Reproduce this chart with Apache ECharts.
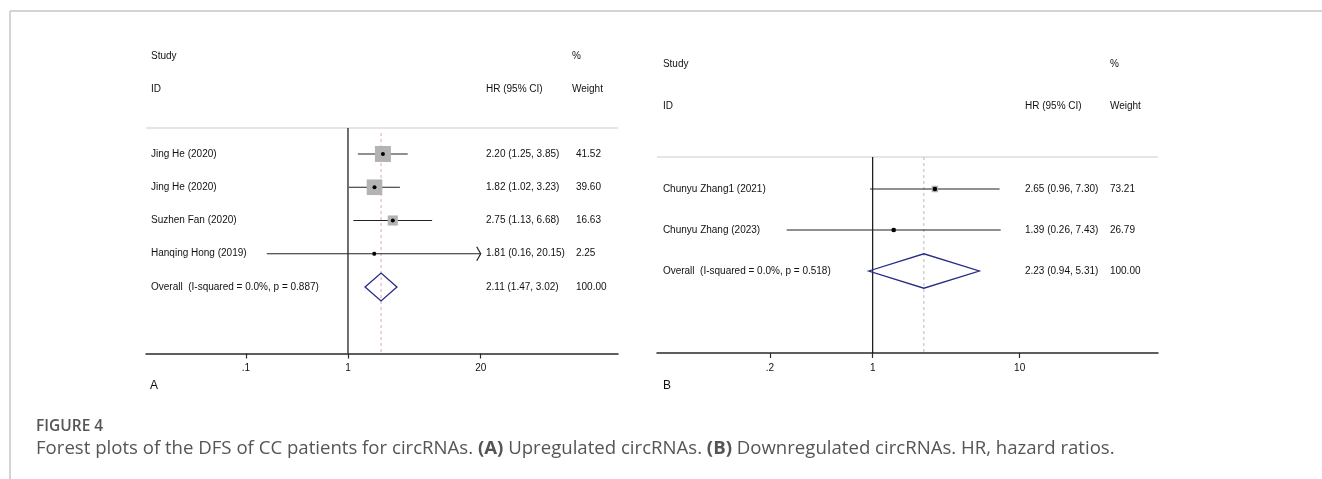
<!DOCTYPE html>
<html><head><meta charset="utf-8">
<script src="https://cdn.jsdelivr.net/npm/echarts@6/dist/echarts.min.js"></script>
<style>html,body{margin:0;padding:0;background:#fff}#c{width:1322px;height:479px}</style>
</head><body><div id="c"></div>
<script>
// ---------------- Data ----------------
const studiesA = ["Jing He (2020)", "Jing He (2020)", "Suzhen Fan (2020)", "Hanqing Hong (2019)"];
const hrA = [2.20, 1.82, 2.75, 1.81];
const lowA = [1.25, 1.02, 1.13, 0.16];
const highA = [3.85, 3.23, 6.68, 20.15];
const weightA = [41.52, 39.60, 16.63, 2.25];
const overallLabelA = "Overall  (I-squared = 0.0%, p = 0.887)";
const overallA = [2.11, 1.47, 3.02];
const overallWeightA = 100.00;
const ticksA = [0.1, 1, 20];
const tickLabelsA = [".1", "1", "20"];

const studiesB = ["Chunyu Zhang1 (2021)", "Chunyu Zhang (2023)"];
const hrB = [2.65, 1.39];
const lowB = [0.96, 0.26];
const highB = [7.30, 7.43];
const weightB = [73.21, 26.79];
const overallLabelB = "Overall  (I-squared = 0.0%, p = 0.518)";
const overallB = [2.23, 0.94, 5.31];
const overallWeightB = 100.00;
const ticksB = [0.2, 1, 10];
const tickLabelsB = [".2", "1", "10"];

const headerStudy = "Study", headerID = "ID", headerHR = "HR (95% CI)", headerPct = "%", headerWeight = "Weight";
const panelLetters = ["A", "B"];
const figureLabel = "FIGURE 4";
const captionText = "Forest plots of the DFS of CC patients for circRNAs. {b|(A)} Upregulated circRNAs. {b|(B)} Downregulated circRNAs. HR, hazard ratios.";

// ---------------- Layout ----------------
const FONT = '"Liberation Sans", Arial, sans-serif';
const TXT_FONT = '10px ' + FONT;
const log = Math.log10;
const measureCtx = document.createElement('canvas').getContext('2d');
measureCtx.font = TXT_FONT;

const panels = [
  {studies: studiesA, hr: hrA, low: lowA, high: highA, weight: weightA, oLabel: overallLabelA, overall: overallA, oWeight: overallWeightA,
   ticks: ticksA, tickLabels: tickLabelsA,
   grid: {left: 146, width: 472, top: 37.6, height: 315.9}, xmin: -1.98, xmax: 2.647, ymin: -3.5,
   labelX: -1.931, hrX: 1.353, wHeadX: 2.196, wX: 2.235, boxK: 2.48, dotR: 2, dashTop: -0.63, dashColor: '#e6a1a8',
   headY: [-2.95, -1.95], letterX: 150},
  {studies: studiesB, hr: hrB, low: lowB, high: highB, weight: weightB, oLabel: overallLabelB, overall: overallB, oWeight: overallWeightB,
   ticks: ticksB, tickLabels: tickLabelsB,
   grid: {left: 657, width: 501, top: 45.5, height: 307.5}, xmin: -1.467, xmax: 1.941, ymin: -3.5,
   labelX: -1.427, hrX: 1.036, wHeadX: 1.614, wX: 1.614, boxK: 0.76, dotR: 2.3, dashTop: -0.78, dashColor: '#b9b9b9',
   headY: [-3.05, -2.02], letterX: 663}
];
const SEP_Y = -0.78;

function fmtCI(h, l, u) { return h.toFixed(2) + ' (' + l.toFixed(2) + ', ' + u.toFixed(2) + ')'; }

const grids = [], xAxes = [], yAxes = [], series = [], graphics = [];

panels.forEach((p, k) => {
  const n = p.studies.length;
  const ymax = n + 2;
  const pxPerUnit = p.grid.width / (p.xmax - p.xmin);
  const tickLog = p.ticks.map(log);
  const tMin = Math.min(...tickLog), tMax = Math.max(...tickLog);

  grids.push(Object.assign({containLabel: false}, p.grid));
  xAxes.push({
    type: 'value', gridIndex: k, min: p.xmin, max: p.xmax,
    axisLine: {show: true, onZero: false, lineStyle: {color: '#2a2a2a', width: 1.5}},
    axisTick: {show: true, customValues: tickLog, length: 5, inside: false, lineStyle: {color: '#2a2a2a', width: 1.2}},
    axisLabel: {show: true, customValues: tickLog, margin: 10, color: '#111', fontSize: 10, fontFamily: FONT,
      formatter: v => { const i = tickLog.findIndex(t => Math.abs(t - v) < 1e-6); return i >= 0 ? p.tickLabels[i] : ''; }},
    splitLine: {show: false}
  });
  yAxes.push({type: 'value', gridIndex: k, inverse: true, min: p.ymin, max: ymax, show: false});

  // guides: separator, null line, dashed overall line
  series.push({
    type: 'custom', xAxisIndex: k, yAxisIndex: k, clip: false, silent: true, animation: false,
    data: [[log(p.overall[0]), ymax]],
    renderItem: (params, api) => {
      const a = api.coord([p.xmin, SEP_Y]), b = api.coord([p.xmax, SEP_Y]);
      const n1 = api.coord([0, SEP_Y]), n2 = api.coord([0, ymax]);
      const d1 = api.coord([api.value(0), p.dashTop]), d2 = api.coord([api.value(0), api.value(1)]);
      return {type: 'group', children: [
        {type: 'line', shape: {x1: a[0], y1: a[1], x2: b[0], y2: b[1]}, style: {stroke: '#dcdcdc', lineWidth: 1.5}},
        {type: 'line', shape: {x1: n1[0], y1: n1[1], x2: n2[0], y2: n2[1]}, style: {stroke: '#111', lineWidth: 1.2}},
        {type: 'line', shape: {x1: d1[0], y1: d1[1], x2: d2[0], y2: d2[1]}, style: {stroke: p.dashColor, lineWidth: 1, lineDash: [3, 3]}}
      ]};
    }
  });

  // studies
  series.push({
    type: 'custom', xAxisIndex: k, yAxisIndex: k, clip: false, silent: true, animation: false,
    data: p.studies.map((s, i) => [log(p.hr[i]), i, log(p.low[i]), log(p.high[i]), p.weight[i]]),
    renderItem: (params, api) => {
      const y = api.value(1);
      const lo = Math.max(api.value(2), tMin), hi = Math.min(api.value(3), tMax);
      const c = api.coord([api.value(0), y]);
      const l = api.coord([lo, y]), r = api.coord([hi, y]);
      const s = p.boxK * Math.sqrt(api.value(4));
      const ch = [
        {type: 'line', shape: {x1: l[0], y1: l[1], x2: r[0], y2: r[1]}, style: {stroke: '#222', lineWidth: 1.2}},
        {type: 'rect', shape: {x: c[0] - s / 2, y: c[1] - s / 2, width: s, height: s}, style: {fill: '#b3b3b3'}},
        {type: 'circle', shape: {cx: c[0], cy: c[1], r: p.dotR}, style: {fill: '#000'}}
      ];
      if (api.value(3) > tMax) {
        ch.push({type: 'polyline', shape: {points: [[r[0] - 4, r[1] - 7], [r[0], r[1]], [r[0] - 4, r[1] + 7]]}, style: {stroke: '#222', lineWidth: 1.2, fill: null}});
      }
      if (api.value(2) < tMin) {
        ch.push({type: 'polyline', shape: {points: [[l[0] + 4, l[1] - 7], [l[0], l[1]], [l[0] + 4, l[1] + 7]]}, style: {stroke: '#222', lineWidth: 1.2, fill: null}});
      }
      return {type: 'group', children: ch};
    }
  });

  // overall diamond
  series.push({
    type: 'custom', xAxisIndex: k, yAxisIndex: k, clip: false, silent: true, animation: false,
    data: [[log(p.overall[0]), n, log(p.overall[1]), log(p.overall[2])]],
    renderItem: (params, api) => {
      const y = api.value(1);
      const h = api.size([0, 0.42])[1];
      const c = api.coord([api.value(0), y]), l = api.coord([api.value(2), y]), r = api.coord([api.value(3), y]);
      return {type: 'polygon', shape: {points: [[l[0], l[1]], [c[0], c[1] - h], [r[0], r[1]], [c[0], c[1] + h]]},
        style: {fill: null, stroke: '#262a86', lineWidth: 1.3}};
    }
  });

  // texts
  const texts = [];
  texts.push([p.labelX, p.headY[0], headerStudy]);
  texts.push([p.labelX, p.headY[1], headerID]);
  texts.push([p.hrX, p.headY[1], headerHR]);
  texts.push([p.wHeadX, p.headY[0], headerPct]);
  texts.push([p.wHeadX, p.headY[1], headerWeight]);
  const addRow = (label, ci, w, row) => {
    texts.push([p.labelX, row, label]);
    texts.push([p.hrX, row, ci]);
    const ciEnd = p.hrX + (measureCtx.measureText(ci).width + 3) / pxPerUnit;
    texts.push([Math.max(p.wX, ciEnd), row, w.toFixed(2)]);
  };
  p.studies.forEach((s, i) => addRow(s, fmtCI(p.hr[i], p.low[i], p.high[i]), p.weight[i], i));
  addRow(p.oLabel, fmtCI(p.overall[0], p.overall[1], p.overall[2]), p.oWeight, n);

  series.push({
    type: 'custom', xAxisIndex: k, yAxisIndex: k, clip: false, silent: true, animation: false,
    data: texts.map((t, i) => [t[0], t[1], i]),
    renderItem: (params, api) => {
      const pt = api.coord([api.value(0), api.value(1)]);
      return {type: 'text', style: {text: texts[api.value(2)][2], x: pt[0], y: pt[1], fill: '#111', font: TXT_FONT, align: 'left', verticalAlign: 'middle'}};
    }
  });

  graphics.push({type: 'text', x: p.letterX, y: 386, style: {text: panelLetters[k], fill: '#111', font: '12px ' + FONT, verticalAlign: 'middle'}});
});

// frame + caption
graphics.push({type: 'line', shape: {x1: 10, y1: 11, x2: 1322, y2: 11}, style: {stroke: '#c6c6c6', lineWidth: 1.5}});
graphics.push({type: 'line', shape: {x1: 10, y1: 11, x2: 10, y2: 479}, style: {stroke: '#c6c6c6', lineWidth: 1.5}});
graphics.push({type: 'text', x: 36, y: 427, style: {text: figureLabel, fill: '#555', fontFamily: '"Open Sans", sans-serif', fontSize: 15.5, fontWeight: 600, verticalAlign: 'middle'}});
graphics.push({type: 'text', x: 36, y: 449, style: {text: captionText, fill: '#555', fontFamily: '"Open Sans", sans-serif', fontSize: 18.6, verticalAlign: 'middle',
  rich: {b: {fontWeight: 'bold', fontFamily: '"Open Sans", sans-serif', fontSize: 18.6, fill: '#555'}}}});

const chart = echarts.init(document.getElementById('c'), null, {renderer: 'canvas'});
chart.setOption({
  animation: false,
  backgroundColor: '#fff',
  grid: grids, xAxis: xAxes, yAxis: yAxes, series: series,
  graphic: {elements: graphics}
});
</script></body></html>
